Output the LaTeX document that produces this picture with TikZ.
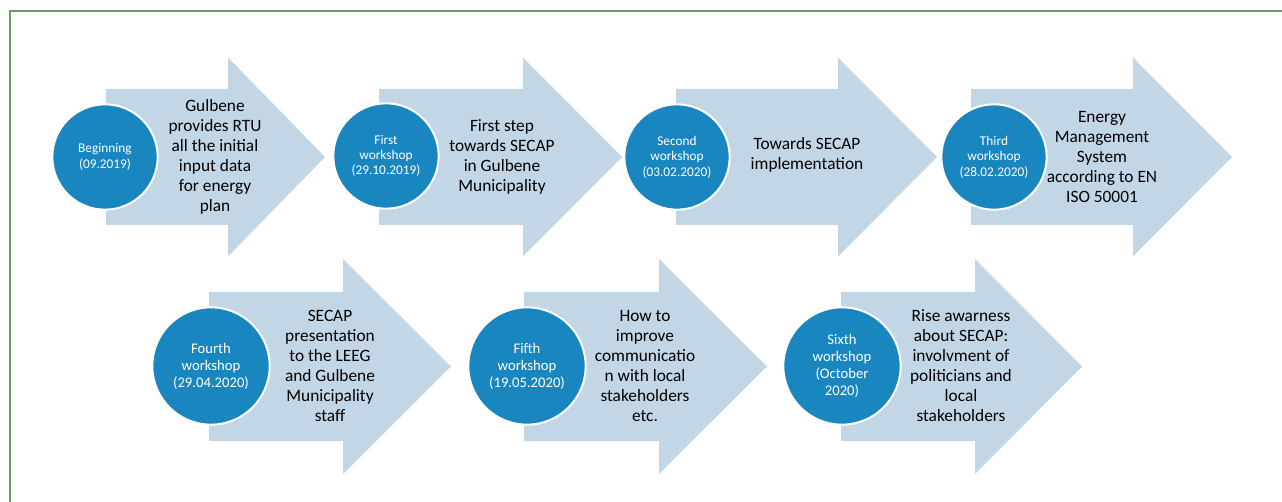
\documentclass[tikz,border=0pt]{standalone}
\usepackage{fontspec}
\setmainfont{Carlito}
\usepackage{tikz}

\definecolor{azul}{HTML}{1A86C0}
\definecolor{setacor}{HTML}{C3D6E6}
\definecolor{moldura}{HTML}{6B9B5E}

\begin{document}
\begin{tikzpicture}[x=0.75pt, y=-0.75pt,
    seta/.style={fill=setacor},
    circulo/.style={circle, fill=azul, draw=white, line width=1.5pt, text=white,
        align=center, inner sep=0pt, font=\fontsize{10}{11.5}\selectfont, minimum size=79pt},
    circulogr/.style={circulo, font=\fontsize{11}{12.75}\selectfont, minimum size=88pt},
    texto/.style={align=center, font=\fontsize{13}{15}\selectfont}]
    \useasboundingbox (0,0) rectangle (1282,502);

    % Moldura
    \draw[moldura, line width=1.5pt] (1282,11.5) -- (9.5,11.5) -- (9.5,502);

    % Setas - primeira linha
    \fill[seta] (106,89) -- (228,89) -- (228,57.5) -- (325,157) -- (228,256.5) -- (228,225) -- (106,225) -- cycle;
    \fill[seta] (379,89) -- (523,89) -- (523,57.5) -- (622,157) -- (523,256.5) -- (523,225) -- (379,225) -- cycle;
    \fill[seta] (676,89) -- (838,89) -- (838,57.5) -- (937,157) -- (838,256.5) -- (838,225) -- (676,225) -- cycle;
    \fill[seta] (971,89) -- (1133,89) -- (1133,57.5) -- (1232,157) -- (1133,256.5) -- (1133,225) -- (971,225) -- cycle;

    % Setas - segunda linha
    \fill[seta] (209,292) -- (343,292) -- (343,259) -- (451,366.5) -- (343,474) -- (343,441) -- (209,441) -- cycle;
    \fill[seta] (524,292) -- (659,292) -- (659,259) -- (767,366.5) -- (659,474) -- (659,441) -- (524,441) -- cycle;
    \fill[seta] (841,292) -- (975,292) -- (975,259) -- (1082,366.5) -- (975,474) -- (975,441) -- (841,441) -- cycle;

    % Circulos
    \node[circulo] (c1) at (105,157) {Beginning\\(09.2019)};
    \node[circulo] (c2) at (386,156) {First\\workshop\\(29.10.2019)};
    \node[circulo] (c3) at (677,157) {Second\\workshop\\(03.02.2020)};
    \node[circulo] (c4) at (994,157) {Third\\workshop\\(28.02.2020)};
    \node[circulogr] (c5) at (211,366) {Fourth\\workshop\\(29.04.2020)};
    \node[circulogr] (c6) at (527,366) {Fifth\\workshop\\(19.05.2020)};
    \node[circulogr] (c7) at (842,366) {Sixth\\workshop\\(October\\2020)};

    % Textos
    \node[texto] (t1) at (215,157) {Gulbene\\provides RTU\\all the initial\\input data\\for energy\\plan};
    \node[texto] (t2) at (502,157) {First step\\towards SECAP\\in Gulbene\\Municipality};
    \node[texto] (t3) at (807,155) {Towards SECAP\\implementation};
    \node[texto] (t4) at (1102,157) {Energy\\Management\\System\\according to EN\\ISO 50001};
    \node[texto] (t5) at (330,366) {SECAP\\presentation\\to the LEEG\\and Gulbene\\Municipality\\staff};
    \node[texto] (t6) at (645,366) {How to\\improve\\communicatio\\n with local\\stakeholders\\etc.};
    \node[texto] (t7) at (961,366) {Rise awarness\\about SECAP:\\involvment of\\politicians and\\local\\stakeholders};
\end{tikzpicture}
\end{document}
